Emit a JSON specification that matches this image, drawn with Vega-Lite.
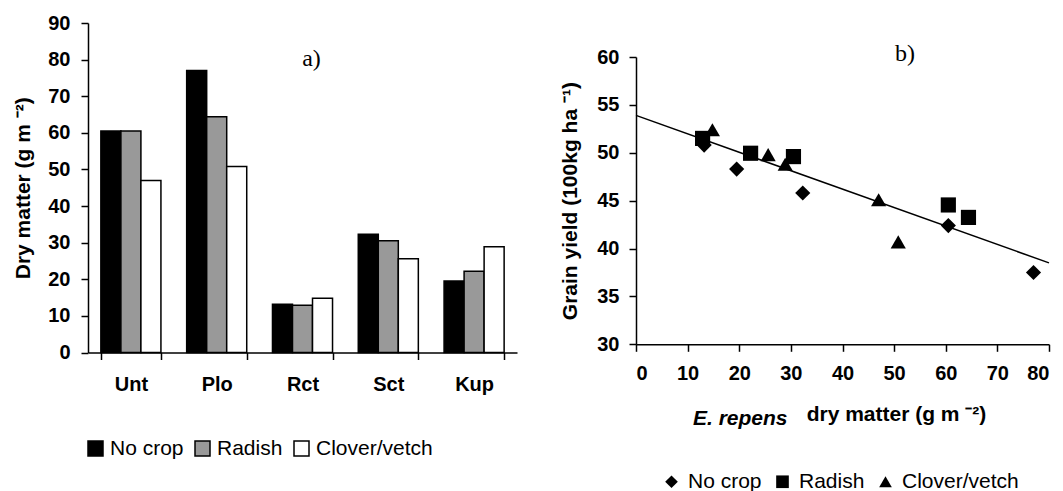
{
  "$schema": "https://vega.github.io/schema/vega-lite/v6.json",
  "background": "white",
  "padding": {"left": 12, "top": 13, "right": 0, "bottom": 0},
  "config": {
    "view": {"stroke": null},
    "font": "Liberation Sans",
    "axis": {
      "domainColor": "black", "domainWidth": 1.5, "tickColor": "black", "tickWidth": 1.5, "tickSize": 7,
      "labelFont": "Liberation Sans", "labelFontWeight": "bold", "labelFontSize": 20, "labelColor": "black",
      "titleFont": "Liberation Sans", "titleFontWeight": "bold", "titleFontSize": 21, "titleColor": "black",
      "grid": false, "labelOverlap": false
    },
    "legend": {"labelFont": "Liberation Sans", "labelFontSize": 21, "labelColor": "black"}
  },
  "resolve": {
    "scale": {"fill": "independent", "shape": "independent"},
    "legend": {"fill": "independent", "shape": "independent"}
  },
  "datasets": {
    "obs": [
      {"treatment": "Unt", "crop": "No crop", "dm": 60.5, "yield": 42.4},
      {"treatment": "Unt", "crop": "Radish", "dm": 60.5, "yield": 44.55},
      {"treatment": "Unt", "crop": "Clover/vetch", "dm": 47.0, "yield": 45.1},
      {"treatment": "Plo", "crop": "No crop", "dm": 77.0, "yield": 37.5},
      {"treatment": "Plo", "crop": "Radish", "dm": 64.4, "yield": 43.25},
      {"treatment": "Plo", "crop": "Clover/vetch", "dm": 50.8, "yield": 40.7},
      {"treatment": "Rct", "crop": "No crop", "dm": 13.2, "yield": 50.8},
      {"treatment": "Rct", "crop": "Radish", "dm": 12.9, "yield": 51.5},
      {"treatment": "Rct", "crop": "Clover/vetch", "dm": 14.8, "yield": 52.4},
      {"treatment": "Sct", "crop": "No crop", "dm": 32.3, "yield": 45.8},
      {"treatment": "Sct", "crop": "Radish", "dm": 30.5, "yield": 49.6},
      {"treatment": "Sct", "crop": "Clover/vetch", "dm": 25.6, "yield": 49.8},
      {"treatment": "Kup", "crop": "No crop", "dm": 19.5, "yield": 48.3},
      {"treatment": "Kup", "crop": "Radish", "dm": 22.2, "yield": 49.95},
      {"treatment": "Kup", "crop": "Clover/vetch", "dm": 28.9, "yield": 48.8}
    ],
    "fit": [
      {"dm": 0, "yield": 53.9},
      {"dm": 80, "yield": 38.5}
    ]
  },
  "spacing": 42,
  "hconcat": [
    {
      "width": 429,
      "height": 329.5,
      "layer": [
        {
          "data": {"name": "obs"},
          "mark": {"type": "bar", "stroke": "black", "strokeWidth": 1.5},
          "encoding": {
            "x": {
              "field": "treatment", "type": "nominal",
              "sort": ["Unt", "Plo", "Rct", "Sct", "Kup"],
              "scale": {"paddingInner": 0.3, "paddingOuter": 0.15},
              "axis": {"title": null, "labelAngle": 0, "tickBand": "extent", "labelPadding": 15}
            },
            "xOffset": {"field": "crop", "type": "nominal", "sort": ["No crop", "Radish", "Clover/vetch"]},
            "y": {
              "field": "dm", "type": "quantitative",
              "scale": {"domain": [0, 90]},
              "axis": {"title": "Dry matter (g m ⁻²)", "values": [0, 10, 20, 30, 40, 50, 60, 70, 80, 90], "tickCount": 10, "labelOverlap": false, "labelPadding": 11, "titlePadding": 14}
            },
            "fill": {
              "field": "crop", "type": "nominal",
              "scale": {"domain": ["No crop", "Radish", "Clover/vetch"], "range": ["#000000", "#999999", "#ffffff"]},
              "legend": {
                "title": null, "orient": "none", "legendX": -3, "legendY": 415, "direction": "horizontal",
                "symbolType": "square", "symbolSize": 225, "symbolStrokeColor": "black", "symbolStrokeWidth": 1.5,
                "labelOffset": 4, "columnPadding": 8,
                "encode": {"symbols": {"update": {"stroke": {"value": "black"}, "strokeWidth": {"value": 1.5}}}}
              }
            }
          }
        },
        {
          "data": {"values": [{"treatment": "Rct", "label": "a)", "yv": 80.3}]},
          "mark": {"type": "text", "font": "Liberation Serif", "fontSize": 24, "dx": 9, "color": "black"},
          "encoding": {
            "x": {"field": "treatment", "type": "nominal", "sort": ["Unt", "Plo", "Rct", "Sct", "Kup"]},
            "y": {"field": "yv", "type": "quantitative"},
            "text": {"field": "label"}
          }
        }
      ]
    },
    {
      "spacing": 0,
      "resolve": {
        "scale": {"shape": "independent"},
        "legend": {"shape": "independent"}
      },
      "vconcat": [
        {
          "width": 1,
          "height": 19,
          "data": {"values": [{}]},
          "mark": {"type": "point", "opacity": 0},
          "encoding": {}
        },
        {
          "width": 413,
          "height": 287.3,
          "title": {
            "text": "E. repens", "orient": "bottom", "frame": "group", "anchor": "start",
            "dx": 57, "offset": -84, "font": "Liberation Sans", "fontSize": 21,
            "fontWeight": "bold", "fontStyle": "italic", "color": "black"
          },
          "layer": [
            {
              "data": {"name": "fit"},
              "mark": {"type": "line", "color": "black", "strokeWidth": 1.5},
              "encoding": {
                "x": {"field": "dm", "type": "quantitative"},
                "y": {"field": "yield", "type": "quantitative"}
              }
            },
            {
              "data": {"name": "obs"},
              "mark": {"type": "point", "filled": true, "opacity": 1, "color": "black", "size": 230},
              "encoding": {
                "x": {
                  "field": "dm", "type": "quantitative",
                  "scale": {"domain": [0, 80], "nice": false},
                  "axis": {"title": "dry matter (g m ⁻²)", "titleX": 260, "titleAlign": "center", "values": [0, 10, 20, 30, 40, 50, 60, 70, 80], "labelPadding": 12, "titlePadding": 20}
                },
                "y": {
                  "field": "yield", "type": "quantitative",
                  "scale": {"domain": [30, 60], "nice": false, "zero": false},
                  "axis": {"title": "Grain yield (100kg ha ⁻¹)", "values": [30, 35, 40, 45, 50, 55, 60], "labelPadding": 10, "titlePadding": 16}
                },
                "shape": {
                  "field": "crop", "type": "nominal",
                  "scale": {"domain": ["No crop", "Radish", "Clover/vetch"], "range": ["diamond", "square", "triangle-up"]},
                  "legend": {
                    "title": null, "orient": "none", "legendX": 25, "legendY": 414, "direction": "horizontal",
                    "symbolSize": 160, "symbolFillColor": "black", "symbolStrokeColor": "black",
                    "labelOffset": 6, "columnPadding": 10
                  }
                }
              }
            },
            {
              "data": {"values": [{"dm": 52.1, "yield": 60.3, "label": "b)"}]},
              "mark": {"type": "text", "font": "Liberation Serif", "fontSize": 24, "color": "black"},
              "encoding": {
                "x": {"field": "dm", "type": "quantitative"},
                "y": {"field": "yield", "type": "quantitative"},
                "text": {"field": "label"}
              }
            }
          ]
        }
      ]
    }
  ]
}
